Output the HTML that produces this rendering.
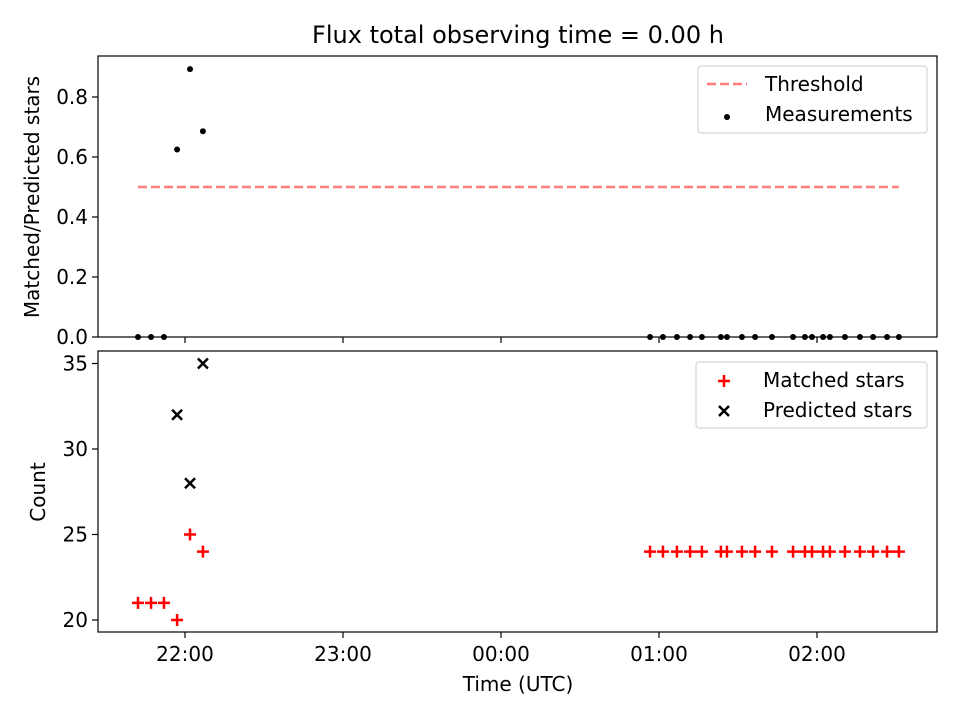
<!DOCTYPE html>
<html><head><meta charset="utf-8"><style>
body{margin:0;background:#fff}
svg text{font-family:"DejaVu Sans","Liberation Sans",sans-serif;fill:#000}
</style></head><body>
<svg id="fig" width="960" height="720" xmlns="http://www.w3.org/2000/svg">
<rect width="960" height="720" fill="#fff"/>
<text x="518" y="43" font-size="24" text-anchor="middle">Flux total observing time = 0.00 h</text>
<g id="topPanel"></g>
<g id="botPanel"></g>
</svg>
<script>
// minutes relative to 22:00 UTC
const times = [-17.85,-12.9,-8,-3,1.9,6.8,176.6,181.5,186.8,191.8,196.3,203.5,205.8,211.5,216.5,222.9,230.9,235.4,238.1,242.3,244.9,250.6,256.3,261.3,266.6,271.1];
const matched = [21,21,21,20,25,24,24,24,24,24,24,24,24,24,24,24,24,24,24,24,24,24,24,24,24,24];
const predicted = [0,0,0,32,28,35,0,0,0,0,0,0,0,0,0,0,0,0,0,0,0,0,0,0,0,0];
const threshold = 0.5;
const xTickLabels = ["22:00","23:00","00:00","01:00","02:00"];
const xTickMinutes = [0,60,120,180,240];
const topTicks = [0.0,0.2,0.4,0.6,0.8];
const botTicks = [20,25,30,35];

(function(){
const NS="http://www.w3.org/2000/svg";
function mk(tag,attrs,parent,txt){const e=document.createElementNS(NS,tag);for(const k in attrs)e.setAttribute(k,attrs[k]);if(txt!==undefined)e.textContent=txt;parent.appendChild(e);return e;}
const L=98,R=937;
const xS=m=>185+m*158/60;
const yTop=v=>337-v*300;
const yBot=v=>620-(v-20)*17.1;
const gT=document.getElementById('topPanel'), gB=document.getElementById('botPanel');
const FS=20;

function frame(g,y0,y1,ticks,yf,fmt,showX){
  mk('rect',{x:L,y:y0,width:R-L,height:y1-y0,fill:'none',stroke:'#000','stroke-width':1.2},g);
  ticks.forEach(t=>{const y=yf(t);
    mk('line',{x1:L-6,x2:L,y1:y,y2:y,stroke:'#000','stroke-width':1.2},g);
    const tx=mk('text',{x:L-10,y:y+7,'font-size':FS,'text-anchor':'end'},g,fmt(t));
    
    
  });
  xTickMinutes.forEach((m,i)=>{const x=xS(m);
    mk('line',{x1:x,x2:x,y1:y1,y2:y1+6,stroke:'#000','stroke-width':1.2},g);
    if(showX){const tx=mk('text',{x:x,y:y1+29,'font-size':FS,'text-anchor':'middle'},g,xTickLabels[i]);
      
      }
  });
}
frame(gT,56,337,topTicks,yTop,t=>t.toFixed(1),false);
frame(gB,351,632,botTicks,yBot,t=>String(t),true);

const yl1=mk('text',{x:0,y:0,'font-size':FS,'text-anchor':'middle',transform:'translate(39,197) rotate(-90)'},gT,'Matched/Predicted stars');

const yl2=mk('text',{x:0,y:0,'font-size':FS,'text-anchor':'middle',transform:'translate(45,492) rotate(-90)'},gB,'Count');

const xl=mk('text',{x:518,y:691,'font-size':FS,'text-anchor':'middle'},gB,'Time (UTC)');


const th=mk('line',{x1:xS(times[0]),x2:xS(times[times.length-1]),y1:yTop(threshold),y2:yTop(threshold),stroke:'#ff7f7f','stroke-width':2.5,'stroke-dasharray':'9 4'},gT);

times.forEach((t,i)=>{const r=predicted[i]>0?matched[i]/predicted[i]:0;
  const c=mk('circle',{cx:xS(t),cy:yTop(r),r:3,fill:'#000'},gT);
  
});
times.forEach((t,i)=>{const x=xS(t),y=yBot(matched[i]);
  const p=mk('path',{d:`M${x-6} ${y}H${x+6}M${x} ${y-6}V${y+6}`,stroke:'#f00','stroke-width':2.5},gB);
  
});
times.forEach((t,i)=>{if(predicted[i]<=0)return;const x=xS(t),y=yBot(predicted[i]);
  const p=mk('path',{d:`M${x-5} ${y-5}L${x+5} ${y+5}M${x-5} ${y+5}L${x+5} ${y-5}`,stroke:'#000','stroke-width':2.5},gB);
  
});

function legend(g,x,y,w,h,items){
  const lg=mk('g',{},g);
  
  mk('rect',{x:x,y:y,width:w,height:h,rx:3,fill:'#fff','fill-opacity':0.8,stroke:'#ccc','stroke-width':1},lg);
  items.forEach((it,i)=>{const cy=y+18+i*30;const mx=x+28;
    if(it.type==='dash')mk('line',{x1:x+9,x2:x+49,y1:cy,y2:cy,stroke:'#ff7f7f','stroke-width':2.5,'stroke-dasharray':'9 4'},lg);
    if(it.type==='dot')mk('circle',{cx:mx+1,cy:cy+3,r:3,fill:'#000'},lg);
    if(it.type==='plus')mk('path',{d:`M${mx-6} ${cy+1}H${mx+6}M${mx} ${cy-5}V${cy+7}`,stroke:'#f00','stroke-width':2.5},lg);
    if(it.type==='x')mk('path',{d:`M${mx-5} ${cy-4}L${mx+5} ${cy+6}M${mx-5} ${cy+6}L${mx+5} ${cy-4}`,stroke:'#000','stroke-width':2.5},lg);
    const tx=mk('text',{x:x+67,y:cy+7,'font-size':FS},lg,it.label);
    
  });
}
legend(gT,698,66,229,67,[{type:'dash',label:'Threshold'},{type:'dot',label:'Measurements'}]);
legend(gB,696,362,231,66,[{type:'plus',label:'Matched stars'},{type:'x',label:'Predicted stars'}]);
})();
</script>
</body></html>
